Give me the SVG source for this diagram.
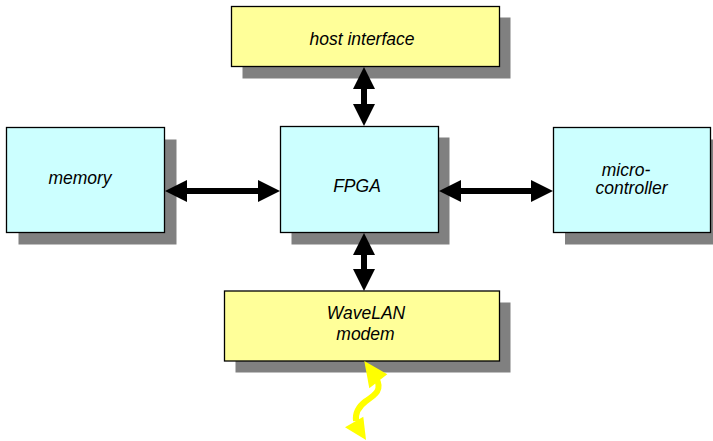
<svg xmlns="http://www.w3.org/2000/svg" width="713" height="441" viewBox="0 0 713 441">
<style>
.sh{fill:#808080}
.cy{fill:#CCFFFF;stroke:#000;stroke-width:1.3}
.ye{fill:#FFFF99;stroke:#000;stroke-width:1.3}
.t{font-family:"Liberation Sans",Arial,sans-serif;font-style:italic;font-size:17.5px;fill:#000;text-anchor:middle}
.c{stroke:#000;stroke-width:6;fill:none;marker-start:url(#ah);marker-end:url(#ah)}
</style>
<defs>
<marker id="ah" viewBox="0 0 22 22" refX="2" refY="11" markerWidth="22" markerHeight="22" markerUnits="userSpaceOnUse" orient="auto-start-reverse">
<path d="M0,0 L22,11 L0,22 z" fill="#000"/>
</marker>
</defs>
<rect width="713" height="441" fill="#fff"/>
<g id="host">
<rect class="sh" x="242.5" y="17.5" width="268" height="61"/>
<rect class="ye" x="231.5" y="6.5" width="268" height="60"/>
<text class="t" x="362" y="44.5">host interface</text>
</g>
<g id="fpga">
<rect class="sh" x="291.5" y="137.5" width="158" height="107"/>
<rect class="cy" x="280.5" y="126.5" width="158" height="106"/>
<text class="t" x="357" y="191.5">FPGA</text>
</g>
<g id="memory">
<rect class="sh" x="18.5" y="139.5" width="158" height="105"/>
<rect class="cy" x="6.5" y="127.5" width="158" height="105"/>
<text class="t" x="80" y="183.5">memory</text>
</g>
<g id="micro">
<rect class="sh" x="565" y="139.5" width="158" height="105"/>
<rect class="cy" x="553.5" y="127.5" width="157" height="105"/>
<text class="t" x="626" y="175.5">micro-</text>
<text class="t" x="631.5" y="194">controller</text>
</g>
<g id="wavelan">
<rect class="sh" x="235.5" y="302.5" width="275" height="70"/>
<rect class="ye" x="224.5" y="291" width="275" height="70"/>
<text class="t" x="366" y="319">WaveLAN</text>
<text class="t" x="365.5" y="339.5">modem</text>
</g>
<g id="connectors">
<line class="c" x1="364" y1="87" x2="364" y2="106"/>
<line class="c" x1="185" y1="191" x2="260" y2="191"/>
<line class="c" x1="459" y1="191" x2="533" y2="191"/>
<line class="c" x1="364" y1="253" x2="364" y2="271"/>
<g id="radio" fill="#FFFF00">
<path d="M376,378 C383,390 375,395 366,401 C358,407 355,413 356,421" stroke="#FFFF00" stroke-width="6" fill="none"/>
<path d="M364.3,361 L387.3,374.3 L369.3,388.3 z"/>
<path d="M345,427.3 L363.3,416.7 L366,440 z"/>
</g>
</g>
</svg>
